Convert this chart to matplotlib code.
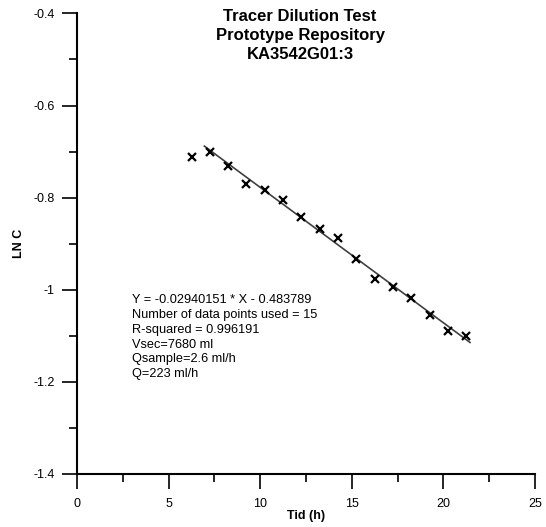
import numpy as np
import matplotlib.pyplot as plt
from matplotlib.ticker import MultipleLocator, FormatStrFormatter

plt.rcParams['font.family'] = ['Liberation Sans', 'DejaVu Sans']
plt.rcParams['axes.unicode_minus'] = False

# measured tracer data (time in h, ln concentration)
tid = [6.25, 7.25, 8.25, 9.25, 10.25, 11.25, 12.25, 13.25,
       14.25, 15.25, 16.25, 17.25, 18.25, 19.25, 20.25, 21.25]
ln_c = [-0.712, -0.701, -0.731, -0.770, -0.783, -0.805, -0.842, -0.869,
        -0.888, -0.933, -0.976, -0.994, -1.018, -1.054, -1.090, -1.101]

# regression result
slope = -0.02940151
intercept = -0.483789
fit_range = [6.95, 21.45]

info_lines = ["Y = -0.02940151 * X - 0.483789",
              "Number of data points used = 15",
              "R-squared = 0.996191",
              "Vsec=7680 ml",
              "Qsample=2.6 ml/h",
              "Q=223 ml/h"]
title_lines = ["Tracer Dilution Test", "Prototype Repository", "KA3542G01:3"]

fig = plt.figure(figsize=(5.46, 5.27), dpi=100)
ax = fig.add_axes([0.141, 0.1006, 0.839, 0.874])

xf = np.array(fit_range)
ax.plot(xf, slope * xf + intercept, color='#404040', lw=1.2, zorder=2)
ax.plot(tid, ln_c, linestyle='none', marker='x', color='black',
        markersize=5.8, markeredgewidth=1.6, zorder=3)

ax.set_xlim(0, 25)
ax.set_ylim(-1.4, -0.4)
ax.xaxis.set_major_locator(MultipleLocator(5))
ax.xaxis.set_minor_locator(MultipleLocator(2.5))
ax.yaxis.set_major_locator(MultipleLocator(0.2))
ax.yaxis.set_minor_locator(MultipleLocator(0.1))
ax.yaxis.set_major_formatter(FormatStrFormatter('%g'))

for s in ['top', 'right']:
    ax.spines[s].set_visible(False)
for s in ['left', 'bottom']:
    ax.spines[s].set_linewidth(1.5)

ax.tick_params(which='major', direction='out', length=11, width=1.2,
               labelsize=9, pad=5)
ax.tick_params(which='minor', direction='out', length=6, width=1.2)
ax.tick_params(axis='x', which='major', pad=6)

ax.set_xlabel("Tid (h)", fontsize=9, fontweight='bold', labelpad=0)
fig.text(19 / 546, 1 - 243 / 527, "LN C", rotation=90, fontsize=9,
         fontweight='bold', ha='center', va='center')

for i, line in enumerate(title_lines):
    fig.text(300 / 546, 1 - (16.7 + 18.8 * i) / 527, line, fontsize=12,
             fontweight='bold', ha='center', va='center')

for i, line in enumerate(info_lines):
    ax.text(3.0, -1.023 - 0.032 * i, line, fontsize=9.2, va='center', ha='left')

fig.savefig("out.png", dpi=100)
